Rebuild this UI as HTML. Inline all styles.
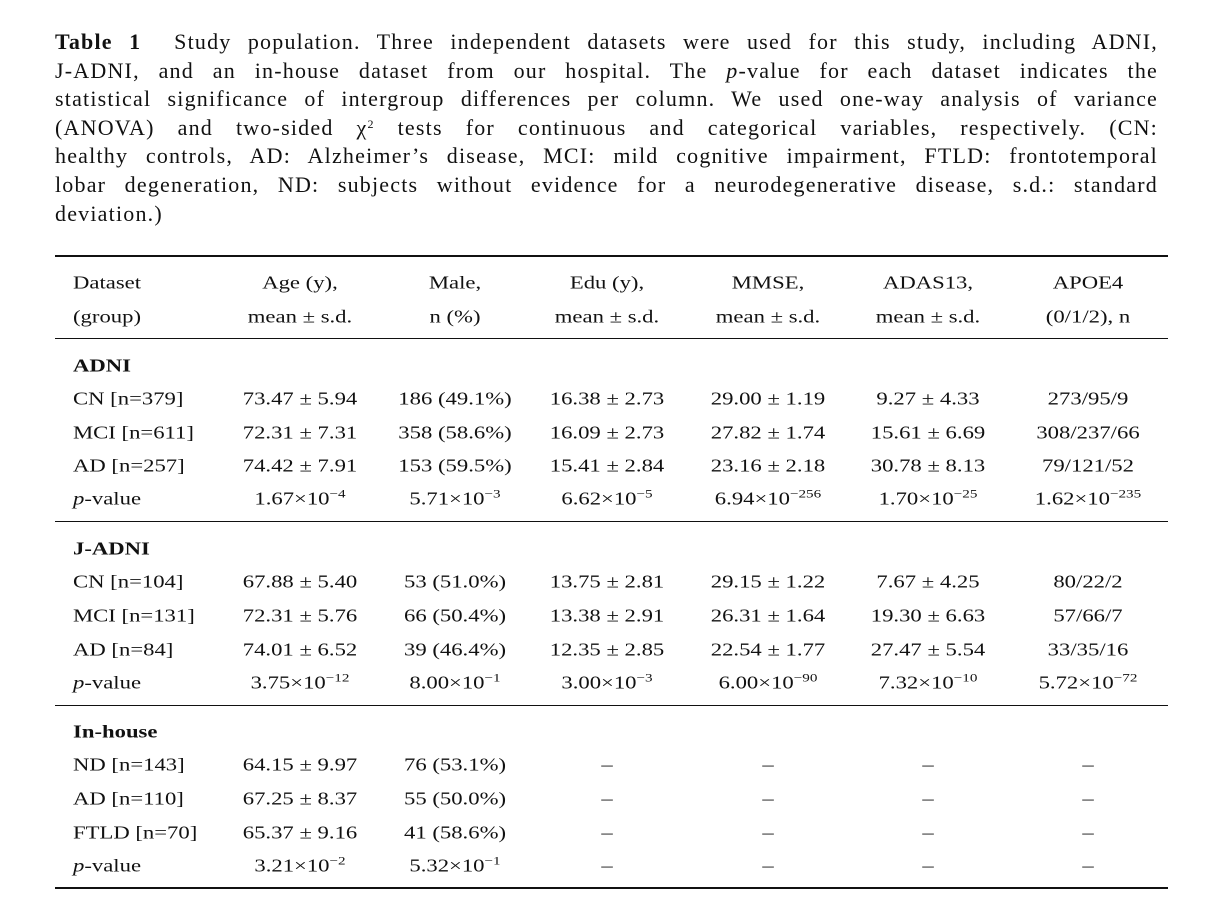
<!DOCTYPE html>
<html><head><meta charset="utf-8">
<style>
body{margin:0;background:#fff;width:1211px;height:918px;position:relative;overflow:hidden;font-family:"Liberation Serif",serif;color:#111}
.cap{position:absolute;left:55px;top:28px;width:1103px;font-size:22px;line-height:28.6px;letter-spacing:1.2px}
.cap div{text-align:justify;text-align-last:justify;white-space:nowrap}
.cap div.last{text-align-last:left}
.c{position:absolute;font-size:18px;transform:translate(-50%,-50%) scaleX(1.26);white-space:nowrap}
.l{position:absolute;font-size:18px;transform:translateY(-50%) scaleX(1.26);transform-origin:left center;white-space:nowrap;left:73px}
.rule{position:absolute;left:55px;width:1113px;background:#111}
sup{font-size:12px;vertical-align:7px;line-height:0}
b{font-weight:bold}
</style></head><body>
<div class="cap">
<div><b>Table 1</b>&nbsp; Study population. Three independent datasets were used for this study, including ADNI,</div>
<div>J-ADNI, and an in-house dataset from our hospital. The <i>p</i>-value for each dataset indicates the</div>
<div>statistical significance of intergroup differences per column. We used one-way analysis of variance</div>
<div>(ANOVA) and two-sided χ<sup>2</sup> tests for continuous and categorical variables, respectively. (CN:</div>
<div>healthy controls, AD: Alzheimer’s disease, MCI: mild cognitive impairment, FTLD: frontotemporal</div>
<div>lobar degeneration, ND: subjects without evidence for a neurodegenerative disease, s.d.: standard</div>
<div class="last">deviation.)</div>
</div>
<div class="rule" style="top:255px;height:2px"></div>
<div class="rule" style="top:338px;height:1.3px"></div>
<div class="rule" style="top:521px;height:1.3px"></div>
<div class="rule" style="top:705px;height:1.3px"></div>
<div class="rule" style="top:887px;height:2px"></div>
<div id="t"></div>
<script>
const cols=[300,455,607,768,928,1088];
const header1=["Age (y),","Male,","Edu (y),","MMSE,","ADAS13,","APOE4"];
const header2=["mean ± s.d.","n (%)","mean ± s.d.","mean ± s.d.","mean ± s.d.","(0/1/2), n"];
const rows=[
[283,"Dataset",header1,"h"],[317,"(group)",header2,"h"],
[366,"<b>ADNI</b>",null,"g"],
[399,"CN [n=379]",["73.47 ± 5.94","186 (49.1%)","16.38 ± 2.73","29.00 ± 1.19","9.27 ± 4.33","273/95/9"]],
[433,"MCI [n=611]",["72.31 ± 7.31","358 (58.6%)","16.09 ± 2.73","27.82 ± 1.74","15.61 ± 6.69","308/237/66"]],
[466,"AD [n=257]",["74.42 ± 7.91","153 (59.5%)","15.41 ± 2.84","23.16 ± 2.18","30.78 ± 8.13","79/121/52"]],
[499,"<i>p</i>-value",["1.67×10<sup>−4</sup>","5.71×10<sup>−3</sup>","6.62×10<sup>−5</sup>","6.94×10<sup>−256</sup>","1.70×10<sup>−25</sup>","1.62×10<sup>−235</sup>"]],
[549,"<b>J-ADNI</b>",null,"g"],
[582,"CN [n=104]",["67.88 ± 5.40","53 (51.0%)","13.75 ± 2.81","29.15 ± 1.22","7.67 ± 4.25","80/22/2"]],
[616,"MCI [n=131]",["72.31 ± 5.76","66 (50.4%)","13.38 ± 2.91","26.31 ± 1.64","19.30 ± 6.63","57/66/7"]],
[650,"AD [n=84]",["74.01 ± 6.52","39 (46.4%)","12.35 ± 2.85","22.54 ± 1.77","27.47 ± 5.54","33/35/16"]],
[683,"<i>p</i>-value",["3.75×10<sup>−12</sup>","8.00×10<sup>−1</sup>","3.00×10<sup>−3</sup>","6.00×10<sup>−90</sup>","7.32×10<sup>−10</sup>","5.72×10<sup>−72</sup>"]],
[732,"<b>In-house</b>",null,"g"],
[765,"ND [n=143]",["64.15 ± 9.97","76 (53.1%)","–","–","–","–"]],
[799,"AD [n=110]",["67.25 ± 8.37","55 (50.0%)","–","–","–","–"]],
[833,"FTLD [n=70]",["65.37 ± 9.16","41 (58.6%)","–","–","–","–"]],
[866,"<i>p</i>-value",["3.21×10<sup>−2</sup>","5.32×10<sup>−1</sup>","–","–","–","–"]]
];
const t=document.getElementById('t');
rows.forEach((r,i)=>{
  const l=document.createElement('div');l.className='l';l.style.top=r[0]+'px';l.innerHTML=r[1];
  
  
  t.appendChild(l);
  if(r[2])r[2].forEach((v,j)=>{
    const c=document.createElement('div');c.className='c';c.style.top=r[0]+'px';c.style.left=cols[j]+'px';c.innerHTML=v;
    
    
    t.appendChild(c);
  });
});
</script>
</body></html>
